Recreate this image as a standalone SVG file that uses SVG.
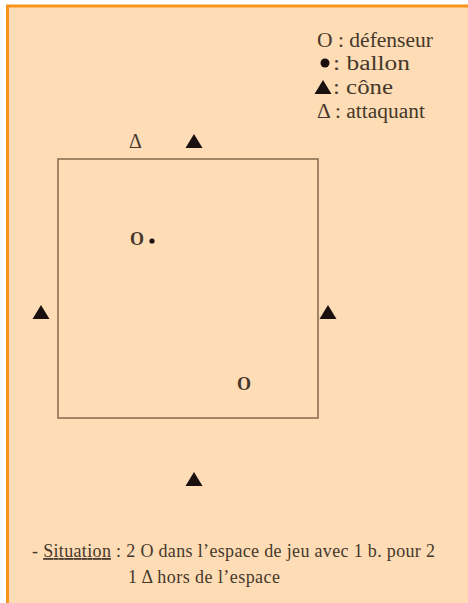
<svg xmlns="http://www.w3.org/2000/svg" width="468" height="603" viewBox="0 0 468 603">
<style>
text{font-family:"Liberation Serif","Times New Roman",serif;fill:#45382a}
.cone{fill:#1a1010}
.lg{font-size:20px}
.sit{font-size:18px}
</style>
<defs>
<polygon id="tri" points="0,-8 8.5,6 -8.5,6"/>
</defs>
<rect x="0" y="0" width="468" height="603" fill="#ffffff"/>
<rect x="6" y="5" width="470" height="610" fill="#fddcb6"/>
<line x1="7.5" y1="5" x2="7.5" y2="603" stroke="#f7941d" stroke-width="3"/>
<line x1="6" y1="6" x2="468" y2="6" stroke="#f7941d" stroke-width="3"/>
<g id="legend">
<text class="lg" x="317" y="47" textLength="116" lengthAdjust="spacingAndGlyphs">O : défenseur</text>
<circle cx="325" cy="63" r="4.5" fill="#1a1010"/>
<text class="lg" x="333" y="70" textLength="77" lengthAdjust="spacingAndGlyphs">: ballon</text>
<use href="#tri" class="cone" x="323" y="88"/>
<text class="lg" x="333" y="94" textLength="60" lengthAdjust="spacingAndGlyphs">: cône</text>
<text class="lg" x="317" y="118" textLength="108" lengthAdjust="spacingAndGlyphs">Δ : attaquant</text>
</g>
<g id="field">
<rect x="58" y="159" width="260" height="259" fill="none" stroke="#8b7050" stroke-width="1.6"/>
</g>
<g id="cone-top"><use href="#tri" class="cone" x="194" y="142"/></g>
<g id="cone-left"><use href="#tri" class="cone" x="41" y="313"/></g>
<g id="cone-right"><use href="#tri" class="cone" x="328" y="313"/></g>
<g id="cone-bottom"><use href="#tri" class="cone" x="194" y="480"/></g>
<g id="attaquant"><text x="129" y="148" style="font-size:20px">Δ</text></g>
<g id="defenseur1"><text x="130" y="245" style="font-size:18px;font-weight:bold">O</text><circle cx="152" cy="241" r="2.6" fill="#1a1010"/></g>
<g id="defenseur2"><text x="237" y="390" style="font-size:18px;font-weight:bold">O</text></g>
<g id="situation">
<text class="sit" x="32" y="557" textLength="403" lengthAdjust="spacing">- <tspan text-decoration="underline">Situation</tspan> : 2 O dans l’espace de jeu avec 1 b. pour 2</text>
<text class="sit" x="128" y="583" textLength="152" lengthAdjust="spacing">1 Δ hors de l’espace</text>
</g>
</svg>
